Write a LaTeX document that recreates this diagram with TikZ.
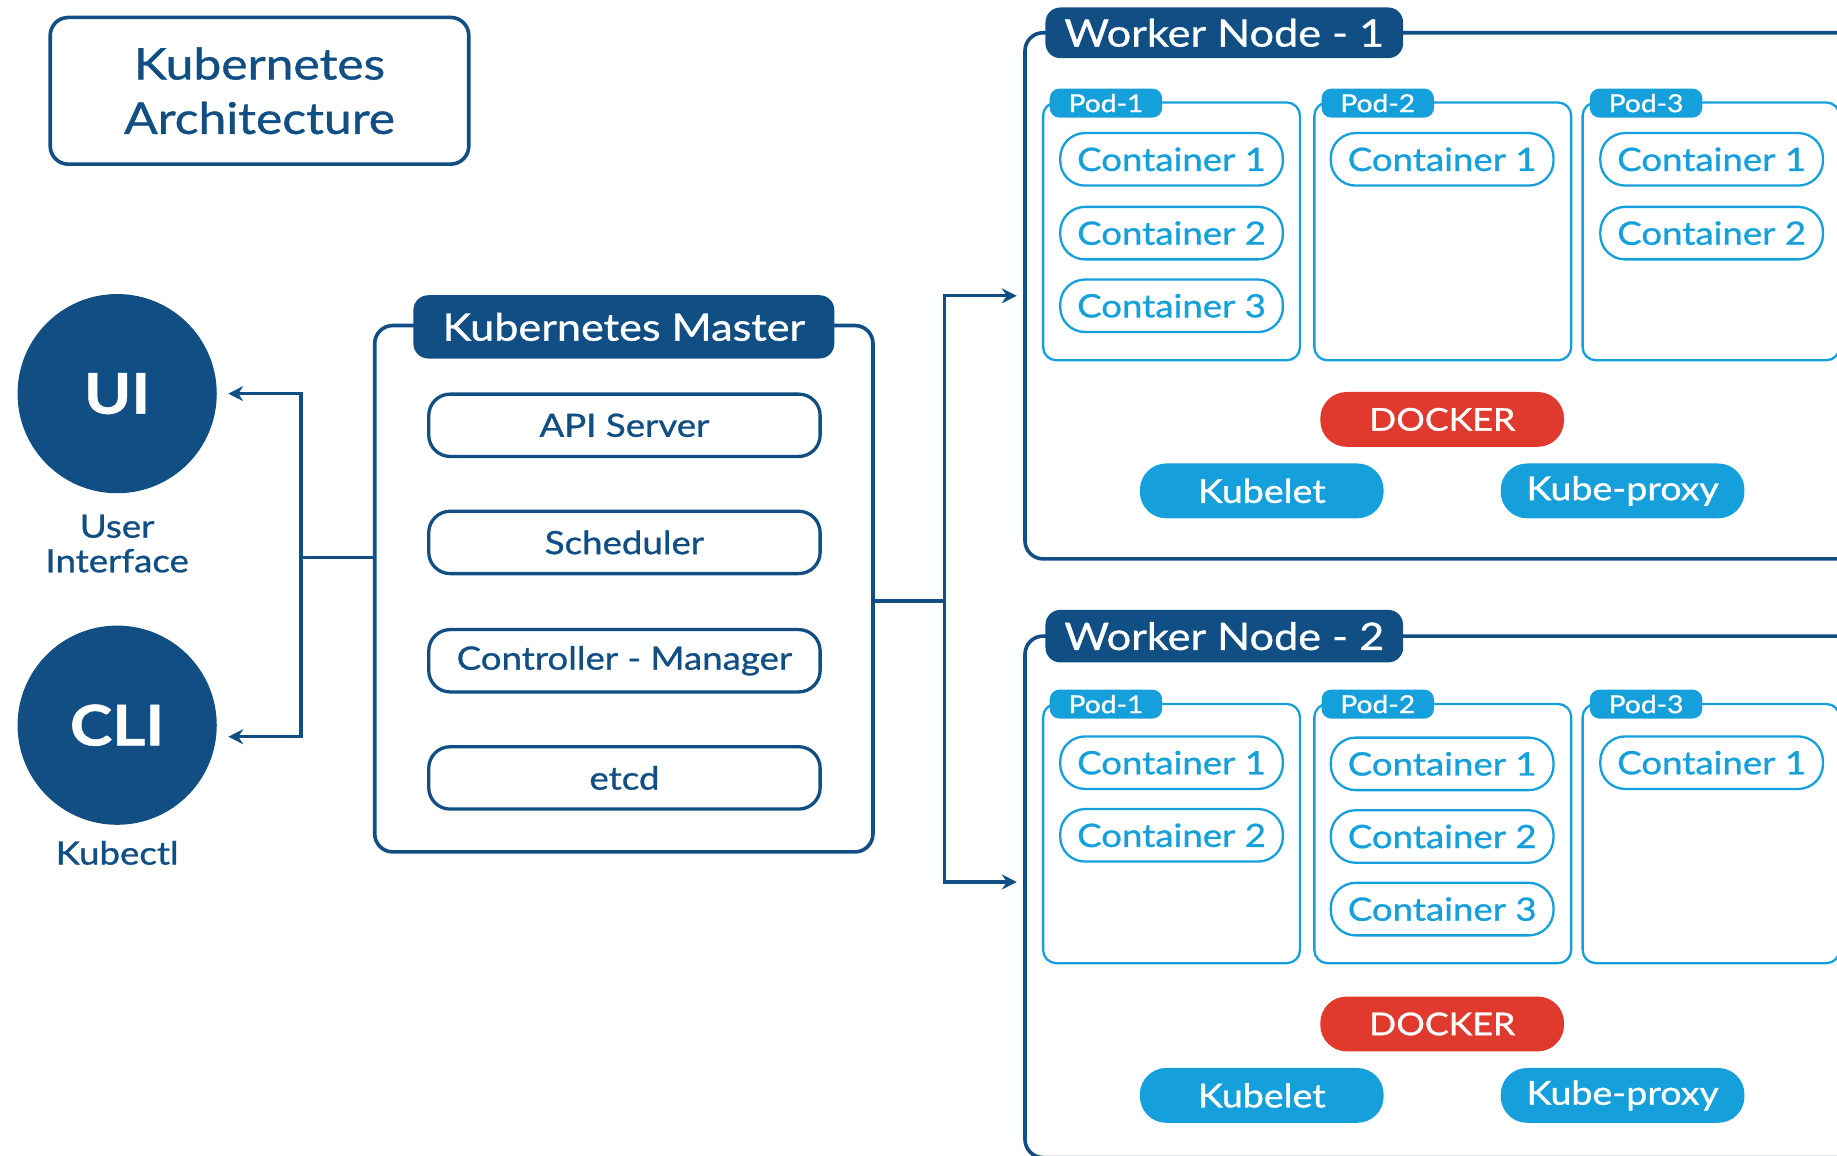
\documentclass[tikz,border=0pt]{standalone}
\usepackage{fontspec}
\setmainfont{Lato}[FakeBold=0.9, FakeStretch=1.14]
\usetikzlibrary{arrows.meta,positioning}
\definecolor{kdark}{RGB}{16,78,132}
\definecolor{klight}{RGB}{22,160,219}
\definecolor{kred}{RGB}{224,58,46}

\begin{document}
\begin{tikzpicture}[
        x=0.025cm, y=-0.025cm,
        every node/.style={inner sep=0pt, outer sep=0pt, align=center},
        outer box/.style={draw=kdark, line width=2.2pt, rounded corners=11pt},
        head box/.style={fill=kdark, text=white, rounded corners=9pt},
        part/.style={
            draw=kdark, line width=2pt, rounded corners=13pt, text=kdark,
            minimum width=8.35cm, minimum height=1.33cm,
            font=\fontsize{19.5}{21}\selectfont
        },
        pod box/.style={
            draw=klight, line width=1.4pt, rounded corners=8pt,
            minimum width=5.48cm, minimum height=5.5cm
        },
        pod tab/.style={
            fill=klight, text=white, rounded corners=6pt,
            minimum width=2.4cm, minimum height=0.62cm,
            font=\fontsize{15}{16}\selectfont
        },
        container/.style={
            draw=klight, line width=1.4pt, rounded corners=15pt, text=klight,
            minimum width=4.75cm, minimum height=1.12cm,
            font=\fontsize{19.5}{21}\selectfont
        },
        pill/.style={
            text=white, rounded corners=16pt,
            minimum width=5.2cm, minimum height=1.17cm,
            font=\fontsize{20}{21}\selectfont
        },
        link/.style={draw=kdark, line width=2pt},
        arrowed/.style={-{Stealth[length=9pt,width=9pt]}}
    ]
    \clip (0,0) rectangle (1568,986);

    \node[outer box, text=kdark, minimum width=8.93cm, minimum height=3.13cm,
        font=\fontsize{26.5}{33}\selectfont] (title) at (221.5,77.5) {Kubernetes\\Architecture};

    \node[circle, fill=kdark, text=white, minimum size=4.25cm,
        font=\fontsize{34}{40}\selectfont\bfseries] (ui) at (100,336) {UI};
    \node[text=kdark, font=\fontsize{19.5}{21}\selectfont] (uilabel) at (100,464) {User\\Interface};
    \node[circle, fill=kdark, text=white, minimum size=4.25cm,
        font=\fontsize{34}{40}\selectfont\bfseries] (cli) at (100,619) {CLI};
    \node[text=kdark, font=\fontsize{19.5}{21}\selectfont] (clilabel) at (100,728) {Kubectl};

    \node[outer box, minimum width=10.63cm, minimum height=11.23cm] (master) at (532.5,502.5) {};
    \node[head box, minimum width=8.98cm, minimum height=1.35cm,
        font=\fontsize{23}{25}\selectfont] (mhead) at (532.5,279) {Kubernetes Master};
    \node[part] (api) at (533,363) {API Server};
    \node[part] (sched) at (533,463) {Scheduler};
    \node[part] (ctrl) at (533,564) {Controller - Manager};
    \node[part] (etcd) at (533,664) {etcd};

    \coordinate (lj) at (257,476);
    \draw[link] (master.west |- lj) -- (lj);
    \draw[link, arrowed, shorten >=7pt] (lj) |- (ui.east);
    \draw[link, arrowed, shorten >=7pt] (lj) |- ([yshift=-7pt]cli.east);

    \node[outer box, minimum width=17.875cm, minimum height=11.225cm] (w1) at (1232.5,252.5) {};
    \node[outer box, minimum width=17.875cm, minimum height=11.125cm] (w2) at (1232.5,765.5) {};

    \coordinate (rj) at (806,513);
    \draw[link] (master.east |- rj) -- (rj);
    \draw[link, arrowed, shorten >=5pt] (rj) |- (w1.west);
    \draw[link, arrowed, shorten >=5pt] (rj) |- ([yshift=9pt]w2.west);

    \node[head box, minimum width=7.63cm, minimum height=1.08cm,
        font=\fontsize{23}{25}\selectfont] (wh1) at (1045,28) {Worker Node - 1};

    \node[pod box] (p11) at (1000,197.5) {};
    \node[pod box] (p12) at (1231.5,197.5) {};
    \node[pod box] (p13) at (1460.5,197.5) {};
    \node[pod tab] (t11) at (944,88) {Pod-1};
    \node[pod tab] (t12) at (1176,88) {Pod-2};
    \node[pod tab] (t13) at (1405,88) {Pod-3};

    \node[container] (c111) at (1000,136) {Container 1};
    \node[container] (c112) at (1000,199) {Container 2};
    \node[container] (c113) at (1000,261) {Container 3};
    \node[container] (c121) at (1231,136) {Container 1};
    \node[container] (c131) at (1461,136) {Container 1};
    \node[container] (c132) at (1461,199) {Container 2};

    \node[pill, fill=kred, font=\fontsize{19}{21}\selectfont] (dock1) at (1231,358) {DOCKER};
    \node[pill, fill=klight] (kubelet1) at (1077,419) {Kubelet};
    \node[pill, fill=klight] (proxy1) at (1385,419) {Kube-proxy};

    \node[head box, minimum width=7.63cm, minimum height=1.12cm,
        font=\fontsize{23}{25}\selectfont] (wh2) at (1045,543) {Worker Node - 2};

    \node[pod box, minimum height=5.53cm] (p21) at (1000,711.5) {};
    \node[pod box, minimum height=5.53cm] (p22) at (1231.5,711.5) {};
    \node[pod box, minimum height=5.53cm] (p23) at (1460.5,711.5) {};
    \node[pod tab] (t21) at (944,601) {Pod-1};
    \node[pod tab] (t22) at (1176,601) {Pod-2};
    \node[pod tab] (t23) at (1405,601) {Pod-3};

    \node[container] (c211) at (1000,651) {Container 1};
    \node[container] (c212) at (1000,713) {Container 2};
    \node[container] (c221) at (1231,652) {Container 1};
    \node[container] (c222) at (1231,714) {Container 2};
    \node[container] (c223) at (1231,776) {Container 3};
    \node[container] (c231) at (1461,651) {Container 1};

    \node[pill, fill=kred, font=\fontsize{19}{21}\selectfont] (dock2) at (1231,874) {DOCKER};
    \node[pill, fill=klight] (kubelet2) at (1077,935) {Kubelet};
    \node[pill, fill=klight] (proxy2) at (1385,935) {Kube-proxy};
\end{tikzpicture}
\end{document}
